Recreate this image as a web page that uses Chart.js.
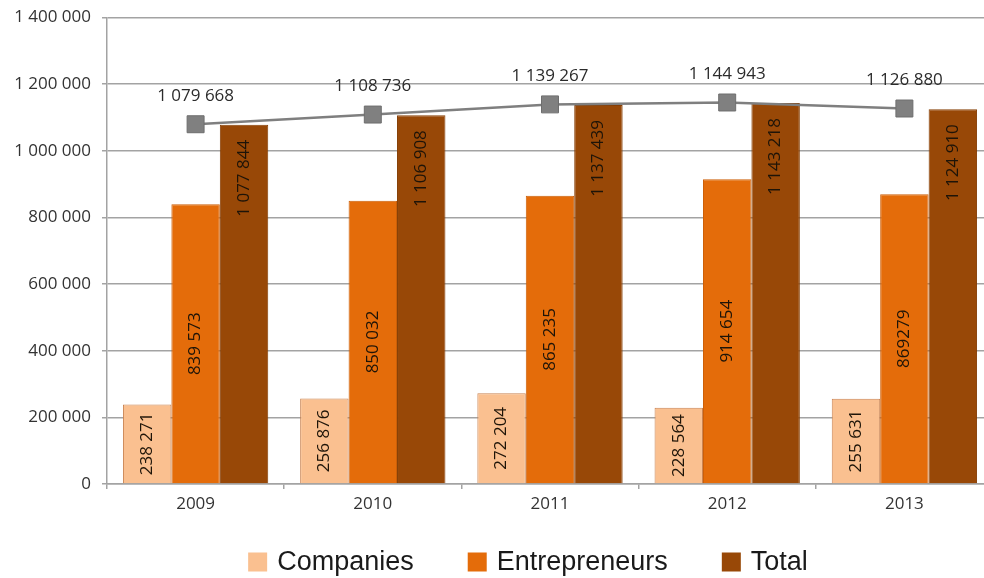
<!DOCTYPE html>
<html lang="en">

<head>
  <meta charset="UTF-8">
  <title>Companies and entrepreneurs, 2009–2013</title>
  <script src="https://cdn.jsdelivr.net/npm/chart.js"></script>
  <style>
    html,
    body {
      margin: 0;
      padding: 0;
      background: #fff;
      overflow: hidden;
    }
  </style>
</head>

<body>
  <!-- wider than the window: the plot runs off the right edge -->
  <canvas id="registry" width="1006" height="578"></canvas>

  <script>
    const years = ['2009', '2010', '2011', '2012', '2013'];
    const companies = [238271, 256876, 272204, 228564, 255631];
    const entrepreneurs = [839573, 850032, 865235, 914654, 869279];
    const totals = [1077844, 1106908, 1137439, 1143218, 1124910];
    const totalLine = [1079668, 1108736, 1139267, 1144943, 1126880];
    const yMax = 1400000;
    const yStep = 200000;

    // 1234567 -> "1 234 567"
    const fmt = v => String(v).replace(/\B(?=(\d{3})+(?!\d))/g, ' ');

    const entrepreneurText = entrepreneurs.map(fmt);
    entrepreneurText[4] = String(entrepreneurs[4]); // printed without the gap in the source

    const labelFont = '17px "Open Sans"';

    // values written on the bars (rotated) and above the line markers
    const valueLabels = {
      id: 'valueLabels',
      afterDatasetsDraw(chart) {
        const ctx = chart.ctx;
        ctx.save();
        ctx.font = labelFont;
        chart.data.datasets.forEach((ds, i) => {
          const meta = chart.getDatasetMeta(i);
          meta.data.forEach((el, j) => {
            const text = ds.valueText[j];
            if (ds.type === 'line') {
              ctx.fillStyle = '#2b2b2b';
              ctx.textAlign = 'center';
              ctx.textBaseline = 'middle';
              ctx.fillText(text, el.x, el.y - 28);
              return;
            }
            ctx.save();
            ctx.fillStyle = '#1e1408';
            ctx.textBaseline = 'middle';
            if (ds.labelAt === 'end') {
              ctx.translate(el.x, el.y + 15);
              ctx.rotate(-Math.PI / 2);
              ctx.textAlign = 'right';
            } else {
              ctx.translate(el.x, (el.y + el.base) / 2);
              ctx.rotate(-Math.PI / 2);
              ctx.textAlign = 'center';
            }
            ctx.fillText(text, 0, 0);
            ctx.restore();
          });
        });
        ctx.restore();
      }
    };

    // legend row under the axis, bar series only
    const bottomLegend = {
      id: 'bottomLegend',
      afterDraw(chart) {
        const ctx = chart.ctx;
        const items = chart.data.datasets.filter(d => d.type !== 'line');
        const box = 19, gap = 10, space = 54, cx = 528, y = 562;
        ctx.save();
        ctx.font = '27px "Liberation Sans"';
        const widths = items.map(d => box + gap + ctx.measureText(d.label).width);
        const full = widths.reduce((a, b) => a + b, 0) + space * (items.length - 1);
        let x = cx - full / 2;
        items.forEach((d, i) => {
          ctx.fillStyle = d.backgroundColor;
          ctx.fillRect(x, y - box / 2, box, box);
          ctx.fillStyle = '#1a1a1a';
          ctx.textAlign = 'left';
          ctx.textBaseline = 'middle';
          ctx.fillText(d.label, x + box + gap, y + 1);
          x += widths[i] + space;
        });
        ctx.restore();
      }
    };

    const gridGray = '#a3a3a3';

    new Chart(document.getElementById('registry').getContext('2d'), {
      data: {
        labels: years,
        datasets: [
          {
            type: 'line',
            label: 'Total (line)',
            data: totalLine,
            valueText: totalLine.map(fmt),
            borderColor: '#7f7f7f',
            borderWidth: 2.5,
            pointStyle: 'rect',
            pointRadius: 12,
            pointBackgroundColor: '#808080',
            pointBorderColor: '#6e6e6e',
            pointBorderWidth: 1,
            order: 0
          },
          {
            type: 'bar',
            label: 'Companies',
            data: companies,
            valueText: companies.map(fmt),
            labelAt: 'center',
            backgroundColor: '#fac090',
            borderColor: '#c98352',
            borderWidth: 1,
            categoryPercentage: 0.82,
            barPercentage: 1,
            order: 1
          },
          {
            type: 'bar',
            label: 'Entrepreneurs',
            data: entrepreneurs,
            valueText: entrepreneurText,
            labelAt: 'center',
            backgroundColor: '#e46c0a',
            borderColor: '#cc5f08',
            borderWidth: 1,
            categoryPercentage: 0.82,
            barPercentage: 1,
            order: 1
          },
          {
            type: 'bar',
            label: 'Total',
            data: totals,
            valueText: totals.map(fmt),
            labelAt: 'end',
            backgroundColor: '#984807',
            borderColor: '#853e05',
            borderWidth: 1,
            categoryPercentage: 0.82,
            barPercentage: 1,
            order: 1
          }
        ]
      },
      options: {
        responsive: false,
        animation: false,
        layout: {
          padding: { top: 17.5, bottom: 54, left: 0, right: 0 }
        },
        scales: {
          x: {
            offset: true,
            afterFit: s => {
              s.height = 40;
              s.paddingLeft = 0;
              s.paddingRight = 0;
            },
            grid: {
              drawOnChartArea: false,
              drawTicks: true,
              tickLength: 5,
              color: gridGray,
              lineWidth: 1.5
            },
            border: { color: gridGray, width: 1.5 },
            ticks: {
              font: { family: 'Open Sans', size: 17 },
              color: '#333',
              padding: 5
            }
          },
          y: {
            min: 0,
            max: yMax,
            afterFit: s => {
              s.width = 107;
              s.paddingTop = 0;
              s.paddingBottom = 0;
            },
            grid: {
              color: gridGray,
              lineWidth: 1.5,
              tickLength: 5
            },
            border: { color: gridGray, width: 1.5 },
            ticks: {
              stepSize: yStep,
              font: { family: 'Open Sans', size: 17 },
              color: '#333',
              padding: 11,
              callback: v => fmt(v)
            }
          }
        },
        plugins: {
          legend: { display: false },
          tooltip: { enabled: false }
        }
      },
      plugins: [valueLabels, bottomLegend]
    });
  </script>
</body>

</html>
